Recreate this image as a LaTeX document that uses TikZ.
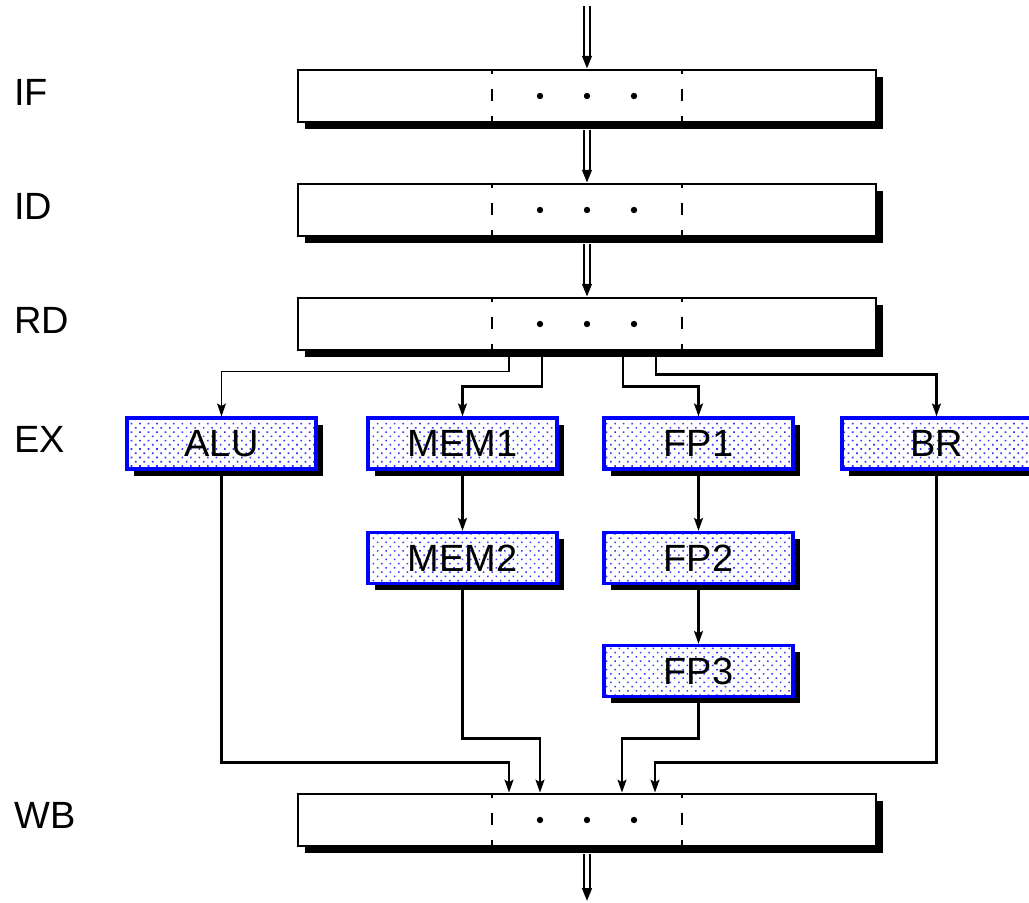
\documentclass[tikz,border=0pt]{standalone}
\usepackage{fontspec}
\setmainfont{Liberation Sans}
\usetikzlibrary{arrows.meta,calc,patterns.meta,shadows}

\tikzset{
  stage/.style={draw,line width=0.7mm,fill=white,minimum width=144.5mm,minimum height=13mm,inner sep=0pt,
    drop shadow={shadow xshift=1.7mm,shadow yshift=-1.7mm,fill=black,opacity=1}},
  unit/.style={draw=blue,line width=0.8mm,minimum width=47.25mm,minimum height=12.75mm,inner sep=0pt,
    drop shadow={shadow xshift=1.7mm,shadow yshift=-1.7mm,fill=black,opacity=1},
    preaction={fill=white},pattern={Dots[distance=1.5mm,angle=45,radius=0.28mm]},pattern color=blue!80},
  lbl/.style={anchor=west,inner sep=0pt},
  link/.style={line width=0.7mm,-{Stealth[length=3.2mm,width=2.2mm,inset=0.6mm]}},
  feed/.style={double,double distance=1mm,line width=0.6mm,-{Triangle[length=3.2mm,width=2.4mm]}},
  sep/.style={line width=0.7mm,dash pattern=on 3mm off 3.75mm,dash phase=1.75mm},
}

\begin{document}
\begin{tikzpicture}[x=0.25mm,y=-0.25mm,font=\fontsize{27}{32}\selectfont,line cap=butt]
\useasboundingbox (0,0) rectangle (1029,903);

% stage labels
\node[lbl] (lif) at (14,92) {IF};
\node[lbl] (lid) at (14,206) {ID};
\node[lbl] (lrd) at (14,320) {RD};
\node[lbl] (lex) at (14,439) {EX};
\node[lbl] (lwb) at (14,815) {WB};

% pipeline registers
\node[stage] (if) at (587,96) {};
\node[stage] (id) at (587,210) {};
\node[stage] (rd) at (587,324) {};
\node[stage] (wb) at (587,820) {};
\foreach \r in {if,id,rd,wb} {
  \draw[sep] ($(\r.north)+(-95,0)$) -- ($(\r.south)+(-95,0)$);
  \draw[sep] ($(\r.north)+(95,0)$) -- ($(\r.south)+(95,0)$);
  \foreach \d in {-47,0,47}
    \fill ($(\r.center)+(\d,0)$) circle (0.8mm);
}

% execution units
\node[unit] (alu) at (221.5,443.5) {ALU};
\node[unit] (mem1) at (462.5,443.5) {MEM1};
\node[unit] (fp1) at (698.5,443.5) {FP1};
\node[unit] (br) at (936.5,443.5) {BR};
\node[unit] (mem2) at (462.5,558) {MEM2};
\node[unit] (fp2) at (698.5,558) {FP2};
\node[unit] (fp3) at (698.5,671) {FP3};

% instruction flow
\coordinate (in) at (587,6);
\coordinate (out) at (587,901);
\draw[feed] (in) -- (if.north);
\draw[feed] ($(if.south)+(0,7)$) -- (id.north);
\draw[feed] ($(id.south)+(0,7)$) -- (rd.north);
\draw[feed] ($(wb.south)+(0,7)$) -- (out);

% issue
\draw[link,line width=0.4mm] ($(rd.south)+(-78,6)$) |- ($(alu.north)+(0,-45)$) -- (alu.north);
\draw[link] ($(rd.south)+(-45,6)$) |- ($(mem1.north)+(0,-30)$) -- (mem1.north);
\draw[link] ($(rd.south)+(36,6)$) |- ($(fp1.north)+(0,-30)$) -- (fp1.north);
\draw[link] ($(rd.south)+(69,6)$) |- ($(br.north)+(0,-42)$) -- (br.north);

\draw[link] (mem1.south) -- (mem2.north);
\draw[link] (fp1.south) -- (fp2.north);
\draw[link] (fp2.south) -- (fp3.north);

% write back
\draw[link] (alu.south) |- ($(wb.north)+(-78,-30)$) -- ($(wb.north)+(-78,0)$);
\draw[link] (mem2.south) |- ($(wb.north)+(-47,-54)$) -- ($(wb.north)+(-47,0)$);
\draw[link] (fp3.south) |- ($(wb.north)+(35,-54)$) -- ($(wb.north)+(35,0)$);
\draw[link] (br.south) |- ($(wb.north)+(68,-30)$) -- ($(wb.north)+(68,0)$);
\end{tikzpicture}
\end{document}
